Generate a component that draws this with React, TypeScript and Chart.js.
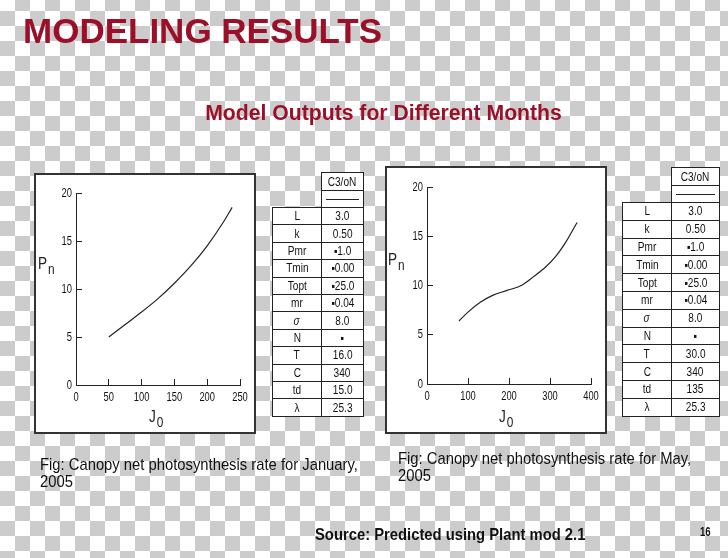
import React, { useEffect, useRef } from "react";
import { Chart, registerables } from "chart.js";

Chart.register(...registerables);

// ---- data ----
const JAN_J0 = [50, 75, 100, 125, 150, 175, 200, 225, 238];
const JAN_PN = [5.0, 6.3, 7.6, 9.0, 10.6, 12.4, 14.5, 17.0, 18.5];
const MAY_J0 = [78, 100, 130, 160, 195, 230, 260, 290, 315, 340, 366];
const MAY_PN = [6.4, 7.3, 8.3, 9.0, 9.5, 10.0, 10.9, 11.9, 13.0, 14.5, 16.4];

const JAN_X_MAX = 250;
const JAN_X_STEP = 50;
const MAY_X_MAX = 400;
const MAY_X_STEP = 100;
const Y_MAX = 20;
const Y_STEP = 5;

const PARAM_LABELS = ["L", "k", "Pmr", "Tmin", "Topt", "mr", "σ", "N", "T", "C", "td", "λ"];
const JAN_VALUES = ["3.0", "0.50", "▪1.0", "▪0.00", "▪25.0", "▪0.04", "8.0", "▪", "16.0", "340", "15.0", "25.3"];
const MAY_VALUES = ["3.0", "0.50", "▪1.0", "▪0.00", "▪25.0", "▪0.04", "8.0", "▪", "30.0", "340", "135", "25.3"];
const TABLE_HEADER = "C3/oN";

const TITLE = "MODELING RESULTS";
const SUBTITLE = "Model Outputs for Different Months";
const JAN_CAPTION = ["Fig: Canopy net photosynthesis rate for January,", "2005"];
const MAY_CAPTION = ["Fig: Canopy net photosynthesis rate for May,", "2005"];
const SOURCE = "Source: Predicted using Plant mod 2.1";
const PAGE_NO = "16";

const SANS = "'Liberation Sans', Arial, sans-serif";
const RED = "#9b1028";
const INK = "#222";

// draws tick labels in a condensed style, positioned by the chart's own scales
const narrowTickLabels = {
  id: "narrowTickLabels",
  afterDraw(chart: any) {
    const ctx = chart.ctx;
    const xs = chart.scales.x;
    const ys = chart.scales.y;
    ctx.save();
    ctx.fillStyle = "#111";
    ctx.font = `13px ${SANS}`;
    ctx.textBaseline = "middle";
    ctx.textAlign = "center";
    xs.ticks.forEach((t: any) => {
      const px = xs.getPixelForValue(t.value);
      ctx.save();
      ctx.translate(px, xs.top + 12.5);
      ctx.scale(0.72, 1);
      ctx.fillText(String(t.value), 0, 0);
      ctx.restore();
    });
    ctx.textAlign = "right";
    ys.ticks.forEach((t: any) => {
      const py = ys.getPixelForValue(t.value);
      ctx.save();
      ctx.translate(ys.right - 4, py);
      ctx.scale(0.72, 1);
      ctx.fillText(String(t.value), 0, 0);
      ctx.restore();
    });
    ctx.restore();
  },
};

type ChartSpec = {
  xs: number[];
  ys: number[];
  xMax: number;
  xStep: number;
  w: number;
  h: number;
  padRight: number;
  padTop: number;
  yWidth: number;
  xHeight: number;
};

function LineChart(p: ChartSpec) {
  const ref = useRef<HTMLCanvasElement | null>(null);
  useEffect(() => {
    if (!ref.current) return;
    const chart = new Chart(ref.current, {
      type: "line",
      data: {
        datasets: [
          {
            data: p.xs.map((x, i) => ({ x, y: p.ys[i] })),
            borderColor: INK,
            borderWidth: 1.2,
            pointRadius: 0,
            fill: false,
            cubicInterpolationMode: "monotone",
          },
        ],
      },
      options: {
        animation: false,
        responsive: false,
        maintainAspectRatio: false,
        events: [],
        layout: { padding: { left: 0, right: p.padRight, top: p.padTop, bottom: 0 } },
        plugins: { legend: { display: false }, tooltip: { enabled: false } },
        scales: {
          x: {
            type: "linear",
            min: 0,
            max: p.xMax,
            afterFit: (s: any) => {
              s.height = p.xHeight;
            },
            ticks: { stepSize: p.xStep, display: false, autoSkip: false },
            grid: { drawOnChartArea: false, drawTicks: true, tickLength: -6, color: INK, lineWidth: 1 },
            border: { display: true, color: INK, width: 1 },
          },
          y: {
            type: "linear",
            min: 0,
            max: Y_MAX,
            afterFit: (s: any) => {
              s.width = p.yWidth;
            },
            ticks: { stepSize: Y_STEP, display: false, autoSkip: false },
            grid: { drawOnChartArea: false, drawTicks: true, tickLength: -6, color: INK, lineWidth: 1 },
            border: { display: true, color: INK, width: 1 },
          },
        },
      },
      plugins: [narrowTickLabels],
    } as any);
    return () => chart.destroy();
  }, []);
  return <canvas ref={ref} width={p.w} height={p.h} style={{ display: "block", width: p.w, height: p.h }} />;
}

function Narrow(props: { children: React.ReactNode; sx?: number }) {
  return (
    <span style={{ display: "inline-block", transform: `scaleX(${props.sx ?? 0.84})`, whiteSpace: "nowrap" }}>
      {props.children}
    </span>
  );
}

function ParamTable(props: {
  left: number;
  top: number;
  w1: number;
  w2: number;
  h1: number;
  h2: number;
  rowH: number;
  values: string[];
}) {
  const { left, top, w1, w2, h1, h2, rowH, values } = props;
  const border = `1px solid ${INK}`;
  const cell: React.CSSProperties = {
    position: "absolute",
    display: "flex",
    alignItems: "center",
    justifyContent: "center",
    fontFamily: SANS,
    fontSize: 12,
    color: "#111",
    background: "#fff",
    boxSizing: "border-box",
  };
  const dataTop = top + h1 + h2;
  return (
    <>
      <div style={{ ...cell, left: left + w1, top, width: w2 + 1, height: h1 + 1, border }}>
        <Narrow>{TABLE_HEADER}</Narrow>
      </div>
      <div style={{ ...cell, left: left + w1, top: top + h1, width: w2 + 1, height: h2 + 1, border }}>
        <div style={{ width: w2 - 9, borderTop: `1px solid ${INK}` }} />
      </div>
      {PARAM_LABELS.map((lab, i) => (
        <React.Fragment key={lab}>
          <div
            style={{
              ...cell,
              left,
              top: dataTop + i * rowH,
              width: w1 + 1,
              height: rowH + 1,
              border,
              fontStyle: lab === "σ" ? "italic" : "normal",
            }}
          >
            <Narrow>{lab}</Narrow>
          </div>
          <div style={{ ...cell, left: left + w1, top: dataTop + i * rowH, width: w2 + 1, height: rowH + 1, border }}>
            <Narrow>{values[i]}</Narrow>
          </div>
        </React.Fragment>
      ))}
    </>
  );
}

function AxisTitle(props: { left: number; top: number; main: string; sub: string }) {
  return (
    <div
      style={{
        position: "absolute",
        left: props.left,
        top: props.top,
        fontFamily: SANS,
        fontSize: 16,
        lineHeight: "16px",
        color: INK,
        whiteSpace: "nowrap",
        transform: "scaleX(0.85)",
        transformOrigin: "left top",
      }}
    >
      {props.main}
      <span style={{ position: "relative", top: 5, fontSize: 14, marginLeft: 1 }}>{props.sub}</span>
    </div>
  );
}

function Panel(props: { left: number; top: number; w: number; h: number; children: React.ReactNode }) {
  return (
    <div
      style={{
        position: "absolute",
        left: props.left,
        top: props.top,
        width: props.w,
        height: props.h,
        boxSizing: "border-box",
        border: "2px solid #333",
        background: "#fff",
      }}
    >
      {props.children}
    </div>
  );
}

const captionStyle: React.CSSProperties = {
  position: "absolute",
  fontFamily: SANS,
  fontSize: 17,
  lineHeight: "17px",
  color: "#111",
  whiteSpace: "nowrap",
  transform: "scaleX(0.87)",
  transformOrigin: "left top",
};

export default function App() {
  return (
    <div
      style={{
        position: "fixed",
        left: 0,
        top: 0,
        width: 728,
        height: 558,
        overflow: "hidden",
        background: "repeating-conic-gradient(#cccccc 0% 25%, #ffffff 0% 50%) 0px -4px / 30px 30px",
      }}
    >
      <div
        style={{
          position: "absolute",
          left: 23,
          top: 13,
          fontFamily: SANS,
          fontWeight: "bold",
          fontSize: 35,
          lineHeight: "35px",
          color: RED,
          whiteSpace: "nowrap",
        }}
      >
        {TITLE}
      </div>
      <div
        style={{
          position: "absolute",
          left: 0,
          width: 767,
          top: 101.5,
          textAlign: "center",
          fontFamily: SANS,
          fontWeight: "bold",
          fontSize: 21.2,
          lineHeight: "21px",
          color: RED,
          whiteSpace: "nowrap",
        }}
      >
        {SUBTITLE}
      </div>

      <Panel left={34} top={173} w={222} h={261}>
        <LineChart xs={JAN_J0} ys={JAN_PN} xMax={JAN_X_MAX} xStep={JAN_X_STEP} w={218} h={257} padRight={14} padTop={18} yWidth={40} xHeight={47} />
      </Panel>
      <AxisTitle left={38} top={256} main="P" sub="n" />
      <AxisTitle left={149} top={409} main="J" sub="0" />

      <Panel left={385} top={166} w={222} h={268}>
        <LineChart xs={MAY_J0} ys={MAY_PN} xMax={MAY_X_MAX} xStep={MAY_X_STEP} w={218} h={264} padRight={14} padTop={19} yWidth={40} xHeight={48} />
      </Panel>
      <AxisTitle left={388} top={252} main="P" sub="n" />
      <AxisTitle left={499} top={409} main="J" sub="0" />

      <ParamTable left={272} top={172} w1={49} w2={42} h1={18} h2={17} rowH={17.4} values={JAN_VALUES} />
      <ParamTable left={622} top={167} w1={49} w2={48} h1={18} h2={17} rowH={17.8} values={MAY_VALUES} />

      <div style={{ ...captionStyle, left: 40, top: 456 }}>
        {JAN_CAPTION[0]}
        <br />
        {JAN_CAPTION[1]}
      </div>
      <div style={{ ...captionStyle, left: 398, top: 450 }}>
        {MAY_CAPTION[0]}
        <br />
        {MAY_CAPTION[1]}
      </div>
      <div style={{ ...captionStyle, left: 315, top: 526, fontWeight: "bold" }}>{SOURCE}</div>
      <div
        style={{
          position: "absolute",
          left: 700,
          top: 526,
          fontFamily: SANS,
          fontWeight: "bold",
          fontSize: 12,
          lineHeight: "12px",
          color: "#111",
          transform: "scaleX(0.8)",
          transformOrigin: "left top",
        }}
      >
        {PAGE_NO}
      </div>
    </div>
  );
}
